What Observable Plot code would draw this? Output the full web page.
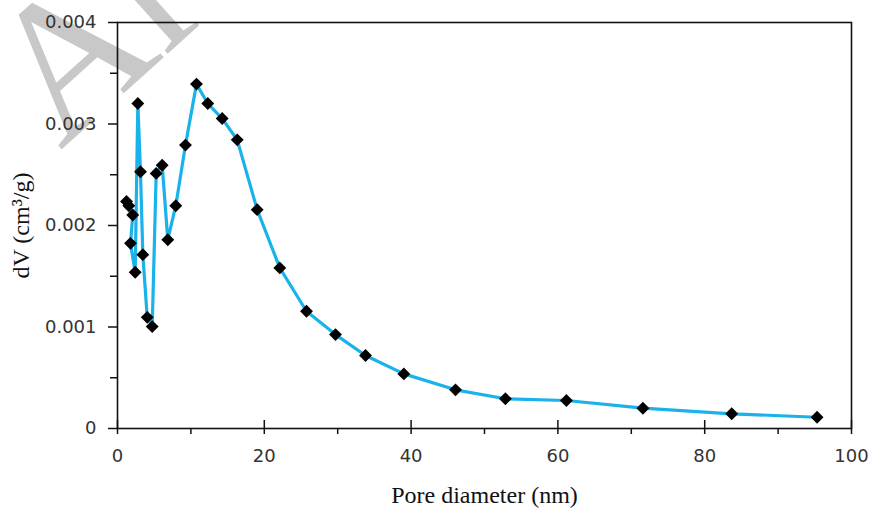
<!DOCTYPE html>
<html>
<head>
<meta charset="utf-8">
<script src="https://cdn.jsdelivr.net/npm/d3@7"></script>
<script src="https://cdn.jsdelivr.net/npm/@observablehq/plot@0.6"></script>
<style>
  html, body { margin: 0; padding: 0; background: #fff; }
  #chart { width: 872px; height: 509px; overflow: hidden; }
</style>
</head>
<body>
<div id="chart"></div>
<script>
// Pore diameter (nm) and dV (cm³/g), in plotted order
const diameter = [1.23, 1.54, 2.08, 1.77, 2.41, 2.77, 3.13, 3.45, 4.05, 4.73, 5.27, 6.09, 6.85, 7.94, 9.26,
  10.76, 12.30, 14.26, 16.31, 19.03, 22.11, 25.75, 29.70, 33.79, 39.01, 46.05, 52.85, 61.16, 71.58, 83.68, 95.31];
const dV = [0.002237, 0.002195, 0.002103, 0.001824, 0.001540, 0.003202, 0.002530, 0.001713, 0.001095, 0.001004,
  0.002513, 0.002594, 0.001860, 0.002195, 0.002792, 0.003393, 0.003202, 0.003054, 0.002844, 0.002156,
  0.001582, 0.001155, 0.000925, 0.000719, 0.000538, 0.000381, 0.000293, 0.000276, 0.000200, 0.000145, 0.000111];

const xMajorTicks = [0, 20, 40, 60, 80, 100];
const xMinorTicks = [10, 30, 50, 70, 90];
const yMajorTicks = [0, 0.001, 0.002, 0.003, 0.004];
const yMinorTicks = [0.0005, 0.0015, 0.0025, 0.0035];
const yTickLabels = ["0", "0.001", "0.002", "0.003", "0.004"];

const xLabel = "Pore diameter (nm)";
const yLabel = "dV (cm³/g)";
const watermark = ["Article"];

const data = diameter.map((d, i) => ({d, v: dV[i]}));

const chart = Plot.plot({
  width: 872,
  height: 509,
  marginLeft: 117,
  marginRight: 21,
  marginTop: 22,
  marginBottom: 81,
  x: {domain: [0, 100]},
  y: {domain: [0, 0.004]},
  style: {fontFamily: "DejaVu Sans", fontSize: "18px", color: "#333", background: "#fff", overflow: "visible"},
  marks: [
    Plot.text(watermark, {frameAnchor: "top-left", dx: -150, dy: 25, rotate: -42, fontSize: 195,
      fontFamily: "Liberation Serif", fill: "#c8c8c8", textAnchor: "start", lineAnchor: "top"}),
    Plot.axisX({ticks: xMinorTicks, tickSize: 6, tickFormat: () => "", label: null, stroke: "#111", strokeWidth: 1.5}),
    Plot.axisX({ticks: xMajorTicks, tickSize: 14, dy: -8, tickPadding: 15, tickFormat: d => String(d),
      label: null, stroke: "#111", strokeWidth: 1.5, fill: "#333"}),
    Plot.axisY({ticks: yMinorTicks, tickSize: 7, tickFormat: () => "", label: null, stroke: "#111", strokeWidth: 1.5}),
    Plot.axisY({ticks: yMajorTicks, tickSize: 10, dx: 1, tickPadding: 12,
      tickFormat: d => yTickLabels[yMajorTicks.indexOf(d)], label: null, stroke: "#111", strokeWidth: 1.5, fill: "#333"}),
    Plot.frame({stroke: "#111", strokeWidth: 1.6}),
    Plot.line(data, {x: "d", y: "v", stroke: "#1ab2ea", strokeWidth: 3.2, curve: "linear"}),
    Plot.dot(data, {x: "d", y: "v", symbol: "diamond2", r: 5.8, fill: "#000", stroke: "none"}),
    Plot.text([xLabel], {frameAnchor: "bottom", dy: 67, textAnchor: "middle", lineAnchor: "middle",
      fontFamily: "Liberation Serif", fontSize: 24, fill: "#111"}),
    Plot.text([yLabel], {frameAnchor: "left", dx: -96, rotate: -90, textAnchor: "middle", lineAnchor: "middle",
      fontFamily: "Liberation Serif", fontSize: 24, fill: "#111"})
  ]
});
document.getElementById("chart").appendChild(chart);
</script>
</body>
</html>
